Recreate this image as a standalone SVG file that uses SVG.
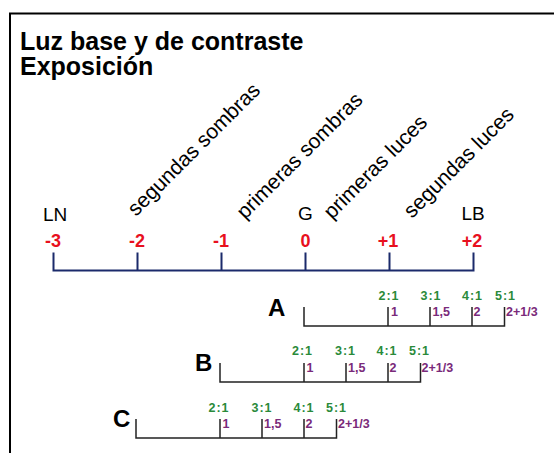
<svg xmlns="http://www.w3.org/2000/svg" width="554" height="453" viewBox="0 0 554 453">
<style>
.t{font-family:"Liberation Sans",Arial,sans-serif;fill:#000}
.title{font-size:25px;font-weight:bold}
.end{font-size:19px}
.rot{font-size:21px}
.num{font-size:18px;font-weight:bold;fill:#e8101e;text-anchor:middle}
.ax{fill:none;stroke:#1b2a6b;stroke-width:2}
.sc{fill:none;stroke:#222;stroke-width:1.5}
.let{font-size:24px;font-weight:bold}
.g{font-family:"Liberation Sans",Arial,sans-serif;font-size:12.5px;font-weight:bold;fill:#2a8a3a;text-anchor:middle;letter-spacing:1px}
.p{font-family:"Liberation Sans",Arial,sans-serif;font-size:12.5px;font-weight:bold;fill:#7a2a7a}
</style>
<rect width="554" height="453" fill="#fff"/>
<path d="M554 13.5H10V453" fill="none" stroke="#000" stroke-width="2"/>
<g id="title">
<text class="t title" x="20" y="49.5">Luz base y de contraste</text>
<text class="t title" x="20" y="75">Exposición</text>
</g>
<g id="connectors">
<path class="ax" d="M53.5 252.5V270.5H473.5V252.5M137.5 252.5V270.5M221.5 252.5V270.5M305.5 252.5V270.5M389.5 252.5V270.5"/>
<path class="sc" d="M304 307V326H504.5V307M388 307V326M430 307V326M472 307V326"/>
<path class="sc" d="M220 363V382H420.5V363M304 363V382M346 363V382M388 363V382"/>
<path class="sc" d="M136 419V438H336.5V419M220 419V438M262 419V438M304 419V438"/>
</g>
<g id="axis-labels">
<text class="t end" x="43" y="221">LN</text>
<text class="t end" x="298" y="220">G</text>
<text class="t end" x="461.5" y="220">LB</text>
<text class="t num" x="53" y="247">-3</text>
<text class="t num" x="137" y="247">-2</text>
<text class="t num" x="221" y="247">-1</text>
<text class="t num" x="305.5" y="247">0</text>
<text class="t num" x="388" y="247">+1</text>
<text class="t num" x="472" y="247">+2</text>
</g>
<g id="zone-labels">
<text class="t rot" transform="translate(136 217) rotate(-45)">segundas sombras</text>
<text class="t rot" transform="translate(245 220) rotate(-45)">primeras sombras</text>
<text class="t rot" transform="translate(332 220) rotate(-45)">primeras luces</text>
<text class="t rot" transform="translate(412 219) rotate(-45)">segundas luces</text>
</g>
<g id="scale-A">
<text class="t let" x="268" y="316">A</text>
<text class="g" x="389" y="300">2:1</text>
<text class="g" x="431" y="300">3:1</text>
<text class="g" x="472.5" y="300">4:1</text>
<text class="g" x="505.5" y="300">5:1</text>
<text class="p" x="391" y="316">1</text>
<text class="p" x="432.5" y="316">1,5</text>
<text class="p" x="473.5" y="316">2</text>
<text class="p" x="506" y="316">2+1/3</text>
</g>
<g id="scale-B">
<text class="t let" x="195" y="371">B</text>
<text class="g" x="302.5" y="355">2:1</text>
<text class="g" x="345.5" y="355">3:1</text>
<text class="g" x="387" y="355">4:1</text>
<text class="g" x="419.5" y="355">5:1</text>
<text class="p" x="306.5" y="371.5">1</text>
<text class="p" x="348" y="371.5">1,5</text>
<text class="p" x="389.5" y="371.5">2</text>
<text class="p" x="421.5" y="371.5">2+1/3</text>
</g>
<g id="scale-C">
<text class="t let" x="113" y="427">C</text>
<text class="g" x="219" y="411.5">2:1</text>
<text class="g" x="262" y="411.5">3:1</text>
<text class="g" x="304" y="411.5">4:1</text>
<text class="g" x="336.5" y="411.5">5:1</text>
<text class="p" x="222.5" y="427.5">1</text>
<text class="p" x="264" y="427.5">1,5</text>
<text class="p" x="305.5" y="427.5">2</text>
<text class="p" x="338" y="427.5">2+1/3</text>
</g>
</svg>
